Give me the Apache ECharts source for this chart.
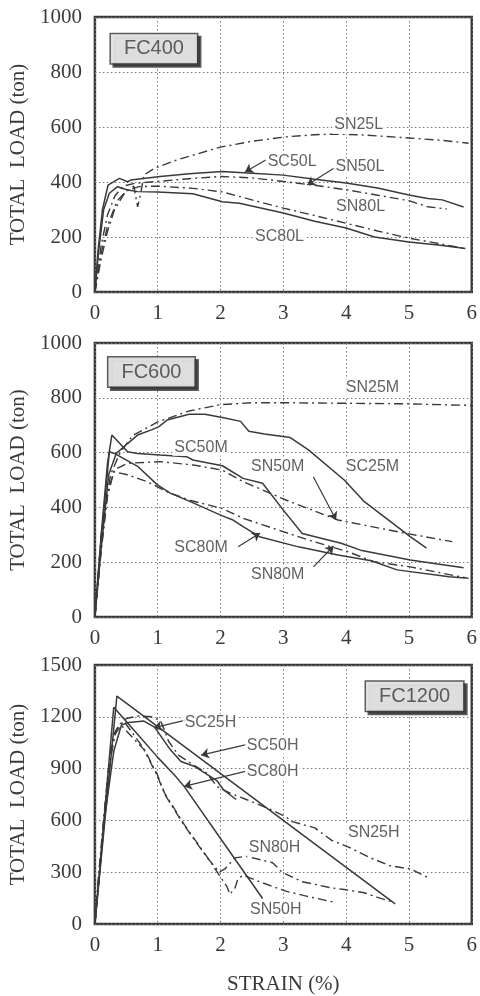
<!DOCTYPE html>
<html>
<head>
<meta charset="utf-8">
<script src="https://cdn.jsdelivr.net/npm/echarts@6/dist/echarts.min.js"></script>
<style>
  html, body { margin: 0; padding: 0; background: #fff; }
  #chart { width: 480px; height: 996px; }
</style>
</head>
<body>
<div id="chart"></div>
<script>
// ---- data (strain %, total load ton) ----
// FC400
const SC50L = [[0,0],[0.05,150],[0.12,300],[0.21,389],[0.39,413],[0.52,401],[0.57,407],[1.04,420],[1.5,430],[2.03,438],[2.5,432],[3.0,425],[3.5,410],[4.0,396],[4.5,378],[5.0,353],[5.3,340],[5.53,335],[5.87,309]];
const SC80L = [[0,0],[0.06,150],[0.14,300],[0.23,359],[0.36,383],[0.52,371],[0.68,365],[1.0,364],[1.56,357],[2.03,328],[2.3,323],[3.0,287],[3.5,257],[4.0,233],[4.45,200],[5.0,182],[5.5,170],[5.9,158]];
const SN25L = [[0,0],[0.1,120],[0.2,220],[0.31,298],[0.47,359],[0.62,385],[0.68,310],[0.73,359],[0.78,425],[0.94,449],[1.3,480],[2.0,527],[2.5,548],[3.03,564],[3.5,572],[3.8,574],[4.2,572],[5.0,560],[5.5,552],[5.95,541]];
const SN50L = [[0,0],[0.1,170],[0.2,280],[0.32,350],[0.45,385],[0.63,395],[1.0,402],[1.5,412],[2.0,420],[2.5,415],[3.0,402],[3.5,388],[4.0,372],[4.5,352],[5.0,332],[5.3,310],[5.6,302]];
const SN80L = [[0,0],[0.1,140],[0.2,240],[0.35,330],[0.5,368],[0.7,383],[1.0,385],[1.56,377],[2.03,364],[2.5,335],[3.0,305],[3.5,278],[4.0,250],[4.5,222],[5.0,196],[5.5,175],[5.9,158]];
// FC600
const SC25M = [[0,0],[0.1,250],[0.22,520],[0.34,597],[0.52,633],[0.68,664],[0.91,684],[1.02,695],[1.15,719],[1.5,740],[1.75,740],[2.03,728],[2.32,714],[2.45,678],[2.7,668],[3.11,655],[3.4,610],[3.97,500],[4.29,421],[5.02,293],[5.28,251]];
const SC50M = [[0,0],[0.1,300],[0.2,560],[0.27,664],[0.52,603],[0.68,597],[1.04,591],[1.46,585],[1.56,573],[2.03,552],[2.36,506],[2.67,488],[3.0,390],[3.3,305],[3.92,269],[4.23,244],[5.02,208],[5.87,180]];
const SC80M = [[0,0],[0.1,280],[0.23,603],[0.31,597],[0.68,550],[0.99,483],[1.2,452],[1.51,422],[2.03,369],[2.2,354],[2.36,330],[2.62,293],[3.24,256],[3.87,226],[4.4,205],[4.81,172],[5.64,147],[5.9,142]];
const SN25M = [[0,0],[0.1,300],[0.25,520],[0.4,600],[0.6,662],[1.0,712],[1.5,752],[2.0,775],[2.5,782],[3.0,782],[4.0,780],[5.0,778],[6.0,772]];
const SN50M = [[0,0],[0.1,250],[0.2,450],[0.31,537],[0.52,561],[1.04,567],[1.56,555],[2.03,536],[2.36,494],[3.04,427],[3.87,354],[4.96,305],[5.69,275]];
const SN80M = [[0,0],[0.1,240],[0.2,440],[0.3,530],[0.5,520],[0.68,506],[0.83,494],[1.15,457],[1.51,426],[2.03,396],[2.36,360],[3.4,281],[4.03,238],[4.44,202],[5.02,183],[5.95,141]];
// FC1200
const SC25H = [[0,0],[0.15,600],[0.3,1000],[0.42,1150],[0.5,1165],[0.78,1175],[0.95,1140],[1.2,1010],[1.37,941],[1.58,914],[1.94,831],[2.05,776],[2.25,721]];
const SC50H = [[0,0],[0.35,1320],[4.78,117]];
const SC80H = [[0,0],[0.3,1255],[0.7,1090],[1.0,965],[1.27,862],[1.42,797],[2.0,495],[2.67,148]];
const SN25H = [[0,0],[0.05,250],[0.15,650],[0.25,1000],[0.35,1130],[0.5,1190],[0.7,1205],[0.9,1200],[1.04,1180],[1.1,1130],[1.17,1060],[1.33,978],[1.56,923],[1.77,877],[1.95,795],[2.15,758],[2.41,721],[2.83,658],[3.04,621],[3.14,593],[3.5,557],[3.77,484],[4.03,447],[4.39,383],[4.7,337],[5.02,319],[5.33,264]];
const SN50H = [[0,0],[0.08,350],[0.2,850],[0.3,1100],[0.4,1160],[0.47,1170],[0.78,1016],[0.99,868],[1.11,758],[1.42,577],[1.78,392],[2.1,218],[2.15,172],[2.23,209],[2.28,264],[2.36,282],[2.62,245],[3.04,190],[3.35,163],[3.81,126]];
const SN80H = [[0,0],[0.1,400],[0.22,900],[0.32,1100],[0.42,1150],[0.78,1010],[0.99,862],[1.11,752],[1.42,572],[1.78,388],[1.98,300],[2.07,319],[2.23,383],[2.41,392],[2.83,355],[2.98,300],[3.3,245],[3.77,209],[3.97,200],[4.29,181],[4.5,154],[4.76,126]];

// axis ranges per panel
const yMax = [1000, 1000, 1500];
const yStep = [200, 200, 300];
const xTicks = [0, 1, 2, 3, 4, 5, 6];

// curve labels: [name, x, y]
const labels400 = [['SN25L',4.2,607],['SC50L',3.14,473],['SN50L',4.22,455],['SN80L',4.23,309],['SC80L',2.94,200]];
const labels600 = [['SN25M',4.42,836],['SC50M',1.69,620],['SN50M',2.91,548],['SC25M',4.42,548],['SC80M',1.69,252],['SN80M',2.91,153]];
const labels1200 = [['SC25H',1.84,1165],['SC50H',2.83,1033],['SC80H',2.83,885],['SN25H',4.44,528],['SN80H',2.86,440],['SN50H',2.88,82]];
// leader arrows: [from, to]
const arrows400 = [[[2.72,480],[2.39,436]],[[3.81,451],[3.38,389]]];
const arrows600 = [[[3.48,511],[3.84,354]],[[2.28,256],[2.63,307]],[[3.48,183],[3.8,259]]];
const arrows1200 = [[[1.45,1181],[0.94,1137]],[[2.41,1039],[1.69,978]],[[2.41,885],[1.42,797]]];
// panel titles: [text, x, y]
const titles = [['FC400',0.94,885],['FC600',0.9,894],['FC1200',5.09,1319]];

const INK = '#3a3a3a';
const SERIF = '"Liberation Serif", "DejaVu Serif", serif';
const SANS = '"Liberation Sans", Arial, sans-serif';
const DASHDOT = [9, 4, 2, 4];

const panels = [
    { curves: { SC50L, SC80L, SN25L, SN50L, SN80L }, labels: labels400, arrows: arrows400 },
    { curves: { SC25M, SC50M, SC80M, SN25M, SN50M, SN80M }, labels: labels600, arrows: arrows600 },
    { curves: { SC25H, SC50H, SC80H, SN25H, SN50H, SN80H }, labels: labels1200, arrows: arrows1200 }
];

const grids = [
    { left: 89, top: 17, width: 384, height: 275 },
    { left: 89, top: 343, width: 384, height: 274 },
    { left: 89, top: 665, width: 384, height: 273 }
].map(g => ({ ...g, show: true, borderColor: '#3a3a3a', borderWidth: 2.5, backgroundColor: 'transparent' }));

const xAxes = grids.map((g, i) => ({
    type: 'value', gridIndex: i, min: xTicks[0], max: xTicks[xTicks.length - 1], interval: 1,
    name: i === 2 ? 'STRAIN (%)' : '', nameLocation: 'middle', nameGap: 50,
    nameTextStyle: { fontFamily: SERIF, fontSize: 21, color: INK },
    axisLine: { show: false }, axisTick: { show: false },
    axisLabel: { fontFamily: SERIF, fontSize: 21, color: INK, margin: 11, formatter: v => String(v) },
    splitLine: { show: true, lineStyle: { color: '#777', width: 1, type: [1.5, 2.5] } }
}));

const yAxes = grids.map((g, i) => ({
    type: 'value', gridIndex: i, min: 0, max: yMax[i], interval: yStep[i],
    name: 'TOTAL  LOAD (ton)', nameLocation: 'middle', nameGap: 60, nameRotate: 90,
    nameTextStyle: { fontFamily: SERIF, fontSize: 21, color: INK },
    axisLine: { show: false }, axisTick: { show: false },
    axisLabel: { fontFamily: SERIF, fontSize: 21, color: INK, margin: 13, formatter: v => String(v) },
    splitLine: { show: true, lineStyle: { color: '#777', width: 1, type: [1.5, 2.5] } }
}));

const series = [];
panels.forEach((p, i) => {
    Object.entries(p.curves).forEach(([name, data]) => {
        const dashed = name.startsWith('SN');
        series.push({
            name, type: 'line', xAxisIndex: i, yAxisIndex: i, data,
            symbol: 'none', silent: true, z: 3,
            lineStyle: { color: INK, width: dashed ? 1.4 : 1.5, type: dashed ? DASHDOT : 'solid' }
        });
    });
    series.push({
        type: 'lines', coordinateSystem: 'cartesian2d', xAxisIndex: i, yAxisIndex: i, z: 4,
        symbol: ['none', 'arrow'], symbolSize: [0, 8], silent: true,
        lineStyle: { color: INK, width: 1.2, opacity: 1, curveness: 0 },
        data: p.arrows.map(a => ({ coords: a }))
    });
    series.push({
        type: 'scatter', xAxisIndex: i, yAxisIndex: i, z: 5, silent: true,
        symbolSize: 1, itemStyle: { color: 'transparent' },
        label: {
            show: true, position: 'inside', formatter: '{b}',
            fontFamily: SANS, fontSize: 16, color: INK,
            backgroundColor: '#fff', padding: [1, 2]
        },
        data: p.labels.map(l => ({ name: l[0], value: [l[1], l[2]] }))
    });
    series.push({
        type: 'scatter', xAxisIndex: i, yAxisIndex: i, z: 6, silent: true,
        symbolSize: 1, itemStyle: { color: 'transparent' },
        label: {
            show: true, position: 'inside', formatter: '{b}',
            fontFamily: SANS, fontSize: 20, color: INK,
            backgroundColor: '#fff', borderColor: '#333', borderWidth: 1.5,
            padding: [5, 13, 4, 13],
            shadowColor: '#333', shadowBlur: 0, shadowOffsetX: 3, shadowOffsetY: 3
        },
        data: [{ name: titles[i][0], value: [titles[i][1], titles[i][2]] }]
    });
});

const chart = echarts.init(document.getElementById('chart'), null, { renderer: 'canvas' });
chart.setOption({
    backgroundColor: '#fff',
    animation: false,
    grid: grids,
    xAxis: xAxes,
    yAxis: yAxes,
    series
});
</script>
</body>
</html>
